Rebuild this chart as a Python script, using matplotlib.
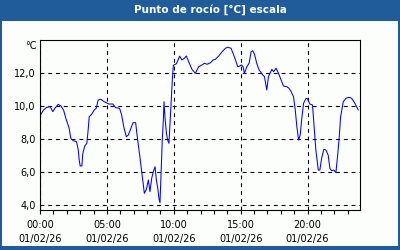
import matplotlib
matplotlib.use("Agg")
import matplotlib.pyplot as plt
from matplotlib.patches import Rectangle

# Dew point readings, 01/02/26 (hours since midnight, degC)
hours = [0.0, 0.26, 0.5, 0.76, 0.96, 1.11, 1.36, 1.56, 1.76, 1.93,
         2.18, 2.3, 2.48, 2.73, 2.86, 2.93, 3.0, 3.13, 3.2, 3.35,
         3.5, 3.6, 3.68, 3.88, 4.05, 4.2, 4.35, 4.55, 4.8, 5.05,
         5.15, 5.45, 5.65, 5.95, 6.1, 6.27, 6.45, 6.6, 6.77, 6.95,
         7.15, 7.27, 7.45, 7.6, 7.7, 7.8, 7.95, 8.1, 8.22, 8.35,
         8.47, 8.6, 8.7, 8.82, 8.9, 8.97, 9.07, 9.14, 9.22, 9.27,
         9.34, 9.45, 9.54, 9.64, 9.72, 9.82, 9.9, 9.97, 10.2, 10.44,
         10.61, 10.79, 10.94, 11.11, 11.36, 11.61, 11.86, 12.11, 12.29, 12.49,
         12.74, 12.94, 13.11, 13.36, 13.61, 13.86, 14.03, 14.28, 14.48, 14.63,
         14.78, 14.93, 15.06, 15.18, 15.28, 15.46, 15.63, 15.78, 15.9, 16.03,
         16.2, 16.38, 16.53, 16.65, 16.78, 16.95, 17.08, 17.2, 17.33, 17.46,
         17.65, 17.83, 18.02, 18.2, 18.45, 18.62, 18.77, 18.95, 19.08, 19.2,
         19.33, 19.45, 19.57, 19.7, 19.87, 19.97, 20.17, 20.37, 20.47, 20.62,
         20.8, 20.92, 21.05, 21.22, 21.37, 21.54, 21.67, 21.8, 21.97, 22.12,
         22.25, 22.37, 22.47, 22.67, 22.87, 23.11, 23.29, 23.54, 23.79]
dew_point = [9.38, 9.74, 9.9, 9.94, 9.64, 9.84, 10.08, 9.98, 9.74, 9.24,
             8.63, 8.02, 7.88, 7.82, 7.32, 6.71, 6.35, 6.35, 7.11, 7.56,
             7.72, 8.53, 9.33, 9.5, 9.74, 9.84, 10.35, 10.39, 10.24, 10.14,
             10.1, 10.1, 9.88, 9.84, 9.44, 8.69, 8.12, 8.22, 8.57, 8.97,
             8.97, 8.12, 7.01, 6.0, 5.3, 4.69, 4.93, 5.5, 4.79, 5.6,
             6.0, 6.3, 5.5, 4.89, 4.33, 4.12, 6.3, 7.92, 9.13, 10.24,
             9.33, 8.33, 7.92, 7.72, 8.93, 10.35, 11.7, 12.45, 12.55, 13.0,
             12.77, 12.87, 13.01, 12.67, 12.2, 11.96, 12.36, 12.47, 12.57, 12.51,
             12.6, 12.77, 12.81, 13.01, 13.27, 13.48, 13.54, 13.48, 13.07, 12.73,
             12.36, 12.4, 12.47, 12.36, 11.96, 12.36, 12.57, 13.27, 13.33, 13.13,
             12.57, 12.16, 12.0, 11.86, 11.76, 10.95, 11.76, 11.96, 12.2, 12.06,
             12.27, 11.96, 11.56, 11.19, 11.15, 11.05, 10.85, 10.55, 9.74, 8.73,
             7.92, 8.22, 9.24, 10.14, 10.42, 10.45, 10.1, 10.04, 8.93, 7.32,
             6.1, 6.1, 6.81, 7.36, 7.32, 7.01, 6.2, 6.06, 6.1, 5.94,
             7.01, 8.12, 9.33, 10.24, 10.45, 10.51, 10.45, 10.14, 9.74]

x_ticks = [0, 5, 10, 15, 20]
x_labels = ["00:00\n01/02/26", "05:00\n01/02/26", "10:00\n01/02/26",
            "15:00\n01/02/26", "20:00\n01/02/26"]
y_ticks = [4, 6, 8, 10, 12]
y_labels = ["4,0", "6,0", "8,0", "10,0", "12,0"]

BLUE = "#1f5c99"
PAPER = "#fcfefc"

fig = plt.figure(figsize=(4, 2.5), dpi=100)
fig.patch.set_facecolor(BLUE)
fig.patches.append(Rectangle((2 / 400, 4 / 250), 396 / 400, 225 / 250,
                             transform=fig.transFigure, facecolor=PAPER,
                             edgecolor="none", zorder=-10))
fig.text(210 / 400, 1 - 10 / 250, "Punto de rocío [°C] escala", color="white",
         fontsize=7.5, fontweight="bold", ha="center", va="center")

ax = fig.add_axes([40 / 400, 40 / 250, 320 / 400, 170 / 250])
ax.set_facecolor(PAPER)
ax.plot(hours, dew_point, color="#0000ff", lw=0.75)

ax.set_xlim(0, 23.92)
ax.set_ylim(3.68, 13.98)
ax.set_xticks(x_ticks, labels=x_labels)
ax.set_xticks(range(24), minor=True)
ax.set_yticks(y_ticks, labels=y_labels)
ax.grid(True, color="black", lw=0.8, linestyle=(0, (3.5, 3.5)))

ax.tick_params(axis="x", which="both", direction="out", length=3, width=0.8,
               labelsize=7, pad=4)
ax.tick_params(axis="y", length=0, labelsize=7, pad=3)
for lbl in ax.get_xticklabels():
    lbl.set_linespacing(1.5)
for s in ax.spines.values():
    s.set_linewidth(0.8)
    s.set_color("black")

fig.text(31 / 400, 1 - 46 / 250, "°C", fontsize=7, ha="center", va="center")

fig.savefig("out.png", dpi=100, facecolor=fig.get_facecolor())
